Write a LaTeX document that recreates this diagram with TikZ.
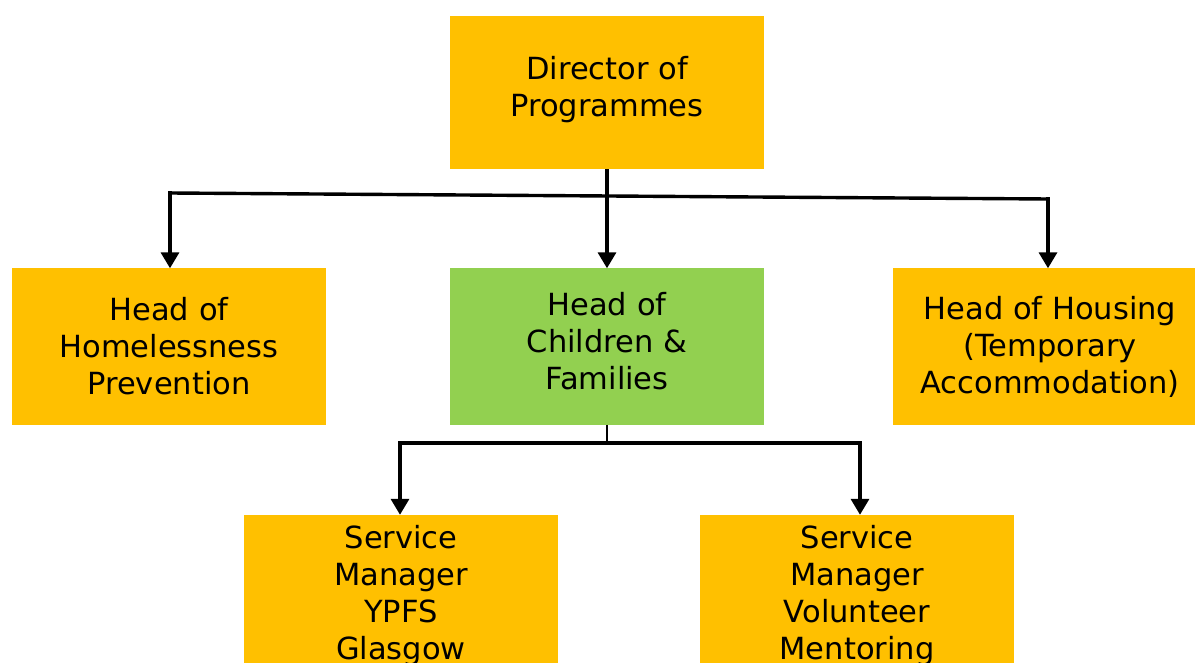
\documentclass[tikz,border=0pt]{standalone}
\usepackage{fontspec}
\setmainfont{DejaVu Sans}
\usetikzlibrary{arrows.meta}
\definecolor{boxorange}{HTML}{FFC000}
\definecolor{boxgreen}{HTML}{92D050}
\newcommand{\lowstrut}[1]{\rule[-#1]{0pt}{0pt}}
\tikzset{
  box/.style={fill=boxorange, draw=none, minimum width=314pt, minimum height=156pt,
    inner sep=0pt, align=center, font=\fontsize{30.5}{37}\selectfont},
  greenbox/.style={box, fill=boxgreen},
  conn/.style={line width=3.4pt, black},
  thinconn/.style={line width=2.6pt, black},
  arrowconn/.style={conn, -{Triangle[width=18pt,length=16pt]}}
}
\begin{document}
\begin{tikzpicture}[x=1pt,y=-1pt]
\useasboundingbox (0,0) rectangle (1195,663);
\node[box, minimum height=153pt] (dir) at (607,92.5) {Director of\\Programmes\lowstrut{13pt}};
\node[box] (hom) at (169,346.5) {Head of\\Homelessness\\Prevention};
\node[greenbox] (chi) at (607,346.5) {Head of\\Children \&\\Families\lowstrut{12pt}};
\node[box] (hou) at (1050,346.5) {Head of Housing\\(Temporary\\Accommodation)};
\node[box, minimum height=162pt] (ypf) at (401,596) {Service\\Manager\\YPFS\\Glasgow};
\node[box, minimum height=162pt] (vol) at (857,596) {Service\\Manager\\Volunteer\\Mentoring};
\coordinate (barL) at (170,193);
\coordinate (barR) at (1048,199);
\coordinate (cL) at (400,443);
\coordinate (cR) at (860,443);
\coordinate (cM) at (607,443);
\draw[conn, line join=miter] (barL) -- (barR);
\draw[arrowconn] (dir.south) -- (chi.north);
\draw[arrowconn] ([yshift=1.7pt]barL) -- (barL |- hom.north);
\draw[arrowconn] ([yshift=1.7pt]barR) -- (barR |- hou.north);
\draw[thinconn] (chi.south) -- (cM);
\draw[conn] (cL) -- (cR);
\draw[arrowconn] ([yshift=1.7pt]cL) -- (cL |- ypf.north);
\draw[arrowconn] ([yshift=1.7pt]cR) -- (cR |- vol.north);
\end{tikzpicture}
\end{document}
